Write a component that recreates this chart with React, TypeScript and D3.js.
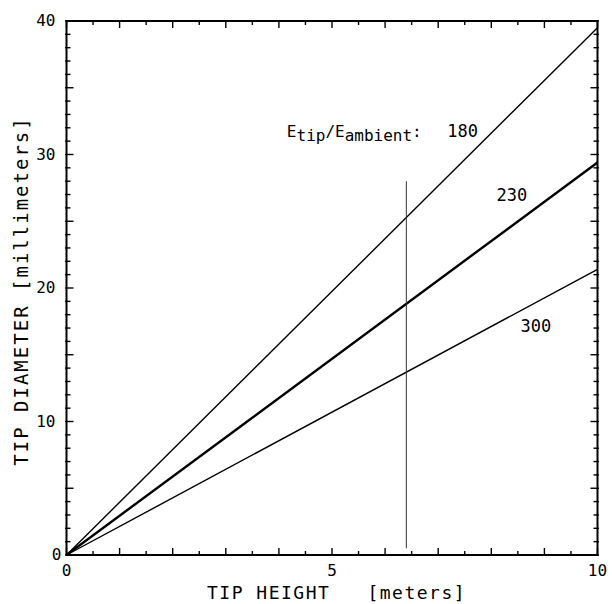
import { useEffect, useRef } from 'react'
import * as d3 from 'd3'

// E_tip / E_ambient ratio for each line, and the tip diameter it reaches at 10 m
const ratioLabels = ['180', '230', '300']
const diameterAtTen = [39.5, 29.4, 21.4]
const tipHeights = [0, 10]

// where each ratio label sits (data coords: start x, baseline y)
const labelHeights = [7.17, 8.1, 8.55]
const labelDiameters = [31.3, 26.5, 16.7]

// vertical marker at the measured tip height
const markerHeight = 6.4
const markerSpan = [0.5, 28]

const xTickValues = [0, 5, 10]
const yTickValues = [0, 10, 20, 30, 40]

const W = 612
const H = 604

export default function App() {
  const svgRef = useRef<SVGSVGElement | null>(null)

  useEffect(() => {
    const svgElement = svgRef.current
    if (!svgElement) return
    const svg = d3.select(svgElement)
    svg.selectAll('*').remove()

    const margin = { top: 21, right: 14.5, bottom: 49, left: 66.5 }
    const innerWidth = W - margin.left - margin.right
    const innerHeight = H - margin.top - margin.bottom
    const font = "'DejaVu Sans Mono', 'Liberation Mono', monospace"

    const x = d3.scaleLinear().domain([0, 10]).range([0, innerWidth])
    const y = d3.scaleLinear().domain([0, 40]).range([innerHeight, 0])

    const g = svg.append('g').attr('transform', `translate(${margin.left},${margin.top})`)

    // ticks: x every 0.5 (longer at whole metres), y every 1 (longer at 5s)
    const xMinor = d3.range(0, 10.001, 0.5)
    const yMinor = d3.range(0, 40.001, 1)
    const tickLen = (major: boolean) => (major ? 7 : 4)

    xMinor.forEach((v) => {
      const major = Math.abs(v - Math.round(v)) < 1e-6
      g.append('line')
        .attr('x1', x(v)).attr('x2', x(v))
        .attr('y1', innerHeight).attr('y2', innerHeight - tickLen(major))
        .attr('stroke', '#000').attr('stroke-width', 1.4)
      g.append('line')
        .attr('x1', x(v)).attr('x2', x(v))
        .attr('y1', 0).attr('y2', tickLen(major))
        .attr('stroke', '#000').attr('stroke-width', 1.4)
    })
    yMinor.forEach((v) => {
      const major = v % 5 === 0
      g.append('line')
        .attr('x1', -1.5).attr('x2', tickLen(major))
        .attr('y1', y(v)).attr('y2', y(v))
        .attr('stroke', '#000').attr('stroke-width', 1.4)
      g.append('line')
        .attr('x1', innerWidth + 1.5).attr('x2', innerWidth - tickLen(major))
        .attr('y1', y(v)).attr('y2', y(v))
        .attr('stroke', '#000').attr('stroke-width', 1.4)
    })

    // frame
    g.append('rect')
      .attr('width', innerWidth)
      .attr('height', innerHeight)
      .attr('fill', 'none')
      .attr('stroke', '#000')
      .attr('stroke-width', 2)

    // tick labels
    g.selectAll('text.xt')
      .data(xTickValues)
      .join('text')
      .attr('x', (d) => x(d))
      .attr('y', innerHeight + 21)
      .attr('text-anchor', 'middle')
      .attr('font-family', font)
      .attr('font-size', 16)
      .text((d) => d)

    g.selectAll('text.yt')
      .data(yTickValues)
      .join('text')
      .attr('x', (d) => (d === 0 ? -5 : -11))
      .attr('y', (d) => y(d) + 5)
      .attr('text-anchor', 'end')
      .attr('font-family', font)
      .attr('font-size', 16)
      .text((d) => d)

    // ratio lines
    const line = d3
      .line<[number, number]>()
      .x((d) => x(d[0]))
      .y((d) => y(d[1]))
    const widths = [1.4, 2.4, 1.4]

    diameterAtTen.forEach((top, i) => {
      const pts: [number, number][] = tipHeights.map((h) => [h, (top * h) / 10])
      g.append('path')
        .datum(pts)
        .attr('fill', 'none')
        .attr('stroke', '#000')
        .attr('stroke-width', widths[i])
        .attr('d', line)
    })

    // vertical marker
    g.append('line')
      .attr('x1', x(markerHeight)).attr('x2', x(markerHeight))
      .attr('y1', y(markerSpan[0])).attr('y2', y(markerSpan[1]))
      .attr('stroke', '#333')
      .attr('stroke-width', 1)

    // ratio labels
    ratioLabels.forEach((lab, i) => {
      g.append('text')
        .attr('x', x(labelHeights[i]))
        .attr('y', y(labelDiameters[i]))
        .attr('font-family', font)
        .attr('font-size', 17)
        .text(lab)
    })

    const legend = g.append('text')
      .attr('x', x(4.15))
      .attr('y', y(labelDiameters[0]))
      .attr('font-family', font)
      .attr('font-size', 16)
    legend.append('tspan').text('E')
    legend.append('tspan').attr('dy', 4).text('tip')
    legend.append('tspan').attr('dy', -4).text('/E')
    legend.append('tspan').attr('dy', 4).text('ambient')
    legend.append('tspan').attr('dy', -4).text(':')

    // axis titles
    svg.append('text')
      .attr('x', 207)
      .attr('y', 599)
      .attr('font-family', font)
      .attr('font-size', 18)
      .attr('letter-spacing', 1.5)
      .attr('xml:space', 'preserve')
      .style('white-space', 'pre')
      .text('TIP HEIGHT   [meters]')

    svg.append('text')
      .attr('transform', `translate(28,${margin.top + innerHeight / 2 + 3}) rotate(-90)`)
      .attr('text-anchor', 'middle')
      .attr('font-family', font)
      .attr('font-size', 19)
      .attr('letter-spacing', 2)
      .text('TIP DIAMETER [millimeters]')
  }, [])

  return (
    <svg
      ref={svgRef}
      width={W}
      height={H}
      style={{ position: 'absolute', left: 0, top: 0, background: '#fff' }}
    />
  )
}
